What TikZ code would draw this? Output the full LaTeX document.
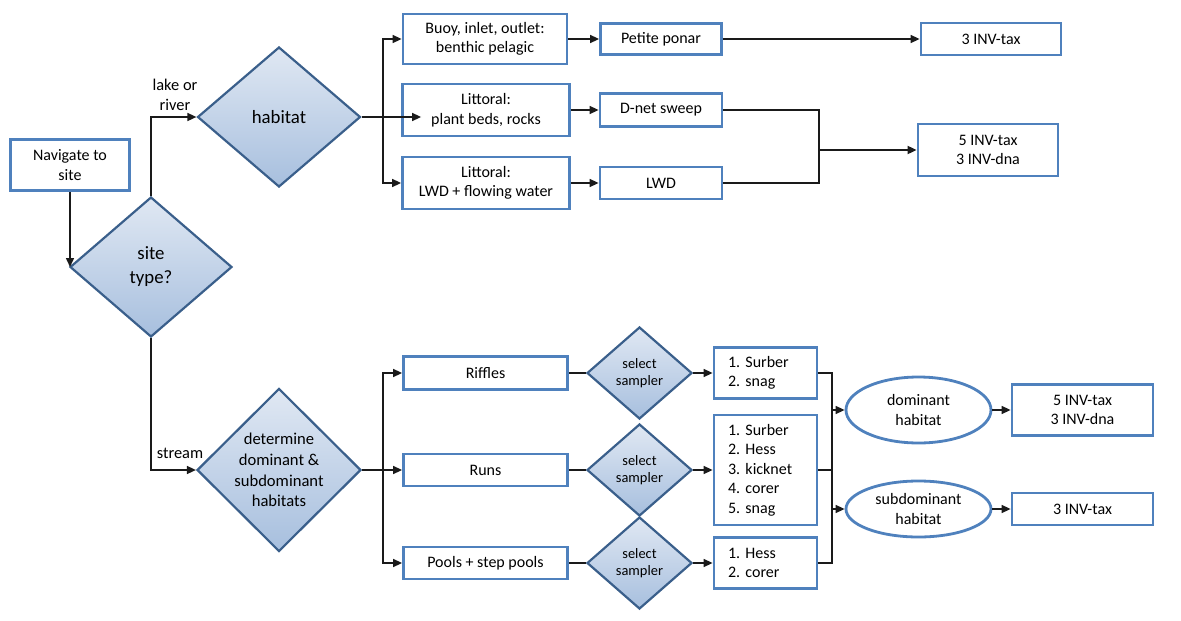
\documentclass[tikz,border=0pt]{standalone}
\usepackage{fontspec}
\setmainfont{Carlito}
\usetikzlibrary{shapes.geometric,arrows.meta,calc}
\definecolor{boxblue}{HTML}{4F81BD}
\definecolor{diablue}{HTML}{3A5F8B}
\definecolor{diatop}{HTML}{E0E8F3}
\definecolor{diabot}{HTML}{A7BFDE}
\definecolor{linec}{HTML}{1A1A1A}
\frenchspacing
\begin{document}
\begin{tikzpicture}[x=1pt,y=-1pt,
  box/.style={draw=boxblue, line width=2.8pt, fill=white, inner sep=0pt, align=center,
    font=\fontsize{16}{19.5}\selectfont},
  listbox/.style={box, text width=75pt, align=left},
  dia/.style={diamond, draw=diablue, line width=2.2pt, top color=diatop, bottom color=diabot,
    inner sep=0pt, aspect=1, align=center},
  bigdia/.style={dia, font=\fontsize{18.8}{24}\selectfont},
  middia/.style={dia, font=\fontsize{16.6}{20.7}\selectfont},
  smalldia/.style={dia, font=\fontsize{14.4}{17.3}\selectfont},
  ell/.style={ellipse, draw=boxblue, line width=2.8pt, fill=white, inner sep=0pt, align=center,
    font=\fontsize{16}{19.5}\selectfont},
  lbl/.style={font=\fontsize{16.4}{20}\selectfont, align=center, inner sep=0pt},
  conn/.style={line width=1.5pt, draw=linec},
  arr/.style={conn, -{Triangle[length=9pt,width=8pt]}}
]
\useasboundingbox (0,0) rectangle (1181,621);

% left part
\node[box, minimum width=119pt, minimum height=51pt] (nav) at (70,165) {Navigate to\\site};
\node[bigdia, minimum width=162pt, minimum height=140pt] (site) at (151,267) {site\\type?};
\node[bigdia, minimum width=163pt, minimum height=140pt] (hab) at (279,117) {habitat};
\node[middia, minimum width=164pt, minimum height=140pt] (det) at (279,470) {determine\\dominant \&\\subdominant\\habitats};

\draw[arr] (nav.south) -- (nav.south |- site.west);
\draw[arr] (site.north) |- (hab.west);
\draw[arr] (site.south) |- (det.west);
\node[lbl] (lk) at (175,95) {lake or\\river};
\node[lbl] (st) at (180,453) {stream};

% lake / river branch
\node[box, minimum width=164pt, minimum height=50pt] (b1) at (485,39) {Buoy, inlet, outlet:\\benthic pelagic};
\node[box, minimum width=167pt, minimum height=52pt] (b2) at (486,110) {Littoral:\\plant beds, rocks};
\node[box, minimum width=167pt, minimum height=52pt] (b3) at (486,183) {Littoral:\\LWD + flowing water};
\node[box, minimum width=121pt, minimum height=31pt] (pp) at (661,39) {Petite ponar};
\node[box, minimum width=122pt, minimum height=33pt] (dn) at (661,110) {D-net sweep};
\node[box, minimum width=122pt, minimum height=32pt] (lwd) at (661,183) {LWD};
\node[box, minimum width=140pt, minimum height=32pt] (t1) at (991,39) {3 INV-tax};
\node[box, minimum width=140pt, minimum height=52pt] (t2) at (988,150) {5 INV-tax\\3 INV-dna};

\coordinate (s1) at (383,117);
\draw[conn] (hab.east) -- (s1);
\draw[arr] (s1) |- (b1.west);
\draw[arr] (s1) |- (b3.west);
\draw[arr] (s1) -- ([xshift=20pt]s1 -| b2.west);
\draw[arr] (b1.east) -- (pp.west);
\draw[arr] (b2.east) -- (dn.west);
\draw[arr] (b3.east) -- (lwd.west);
\draw[arr] (pp.east) -- (t1.west);
\coordinate (j1) at (819,150);
\draw[conn, line width=1.8pt] (dn.east) -| (j1) |- (lwd.east);
\draw[arr, line width=1.8pt] (j1) -- (t2.west);

% stream branch
\node[box, minimum width=164pt, minimum height=33pt] (ri) at (485.5,373) {Riffles};
\node[box, minimum width=164pt, minimum height=32pt] (ru) at (485.5,470) {Runs};
\node[box, minimum width=164pt, minimum height=32pt] (po) at (485.5,563) {Pools + step pools};

\coordinate (s2) at (383,470);
\draw[conn] (det.east) -- (s2);
\draw[arr] (s2) |- (ri.west);
\draw[arr] (s2) -- (ru.west);
\draw[arr] (s2) |- (po.west);

\node[smalldia, minimum width=105pt, minimum height=92pt] (sd1) at (639.5,373) {select\\sampler};
\node[smalldia, minimum width=105pt, minimum height=92pt] (sd2) at (639.5,470) {select\\sampler};
\node[smalldia, minimum width=105pt, minimum height=92pt] (sd3) at (639.5,563) {select\\sampler};

\draw[conn] (ri.east) -- (sd1.west);
\draw[conn] (ru.east) -- (sd2.west);
\draw[conn] (po.east) -- (sd3.west);

\node[listbox, minimum width=103pt, minimum height=51pt] (l1) at (765.5,373) {1. Surber\\2. snag};
\node[listbox, minimum width=103pt, minimum height=110pt] (l2) at (765.5,470) {1. Surber\\2. Hess\\3. kicknet\\4. corer\\5. snag};
\node[listbox, minimum width=103pt, minimum height=51pt] (l3) at (765.5,563) {1. Hess\\2. corer};

\draw[arr] (sd1.east) -- (l1.west);
\draw[arr] (sd2.east) -- (l2.west);
\draw[arr] (sd3.east) -- (l3.west);

\coordinate (j2t) at (832,373);
\coordinate (j2b) at (832,563);
\draw[conn, line width=1.8pt] (l1.east) -- (j2t) -- (j2b) -- (l3.east);
\draw[conn] (l2.east) -- (l2.east -| j2t);

\node[ell, minimum width=145pt, minimum height=66pt] (dom) at (918.5,410) {dominant\\habitat};
\node[ell, minimum width=145pt, minimum height=56pt] (sub) at (918.5,509) {subdominant\\habitat};
\node[box, minimum width=141pt, minimum height=51pt] (t3) at (1082.5,410) {5 INV-tax\\3 INV-dna};
\node[box, minimum width=141pt, minimum height=32pt] (t4) at (1082.5,509) {3 INV-tax};

\draw[arr] (j2t |- dom.west) -- (dom.west);
\draw[arr] (j2t |- sub.west) -- (sub.west);
\draw[arr] (dom.east) -- (t3.west);
\draw[arr] (sub.east) -- (t4.west);
\end{tikzpicture}
\end{document}
